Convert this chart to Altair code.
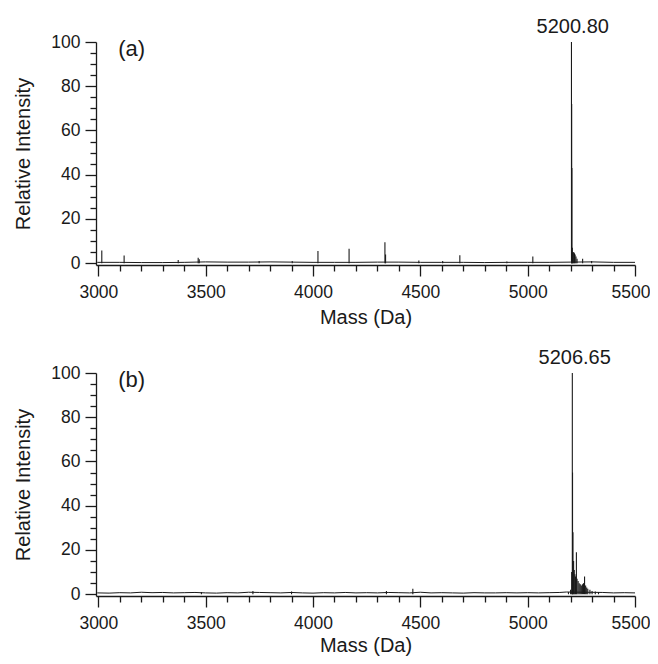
import altair as alt
import pandas as pd

# ---------------- data ----------------
# Panel (a): peak sticks (mass in Da, relative intensity)
peak_mass_a = [3016, 3120, 3372, 3465, 3470, 3749, 3903, 4023, 4168, 4335, 4338,
               4493, 4604, 4684, 4903, 5024, 5204, 5205, 5206, 5208, 5210, 5212,
               5215, 5218, 5221, 5225, 5230, 5256, 5298]
peak_int_a = [5.8, 3.5, 1.5, 2.5, 1.8, 1.0, 1.0, 5.5, 6.5, 9.5, 4.0,
              1.2, 1.0, 3.6, 0.8, 3.0, 100, 72, 43, 7, 5, 5,
              5, 4.5, 4, 3, 2, 2, 1]
# Panel (a): baseline trace
base_mass_a = [2995, 3100, 3200, 3300, 3400, 3500, 3600, 3700, 3800, 3900, 4000,
               4100, 4200, 4300, 4400, 4500, 4600, 4700, 4800, 4900, 5000,
               5100, 5200, 5300, 5400, 5500]
base_int_a = [0.4, 0.4, 0.3, 0.3, 0.4, 0.6, 0.5, 0.5, 0.6, 0.5, 0.4,
              0.4, 0.4, 0.5, 0.5, 0.4, 0.4, 0.4, 0.3, 0.4, 0.4,
              0.4, 0.5, 0.6, 0.4, 0.4]

# Panel (b): peak sticks
peak_mass_b = [3480, 3720, 3900, 4342, 4465, 5190, 5200, 5205, 5208, 5209, 5211,
               5214, 5217, 5220, 5223, 5227, 5230, 5235, 5240, 5245, 5250, 5255,
               5260, 5265, 5270, 5275, 5280, 5290, 5300, 5315, 5330]
peak_int_b = [1.0, 1.5, 1.2, 1.5, 2.5, 1.0, 2.0, 10, 100, 55, 28,
              15, 11, 9, 8, 19, 7, 6, 5, 4.5, 4, 4.5,
              5, 8, 4, 3, 2.5, 2, 1.5, 1.2, 1.0]
# Panel (b): baseline trace (noisier)
base_mass_b = [2995, 3050, 3100, 3150, 3200, 3250, 3300, 3350, 3400, 3450, 3500,
               3550, 3600, 3650, 3700, 3750, 3800, 3850, 3900, 3950, 4000,
               4050, 4100, 4150, 4200, 4250, 4300, 4350, 4400, 4450, 4500,
               4550, 4600, 4650, 4700, 4750, 4800, 4850, 4900, 4950, 5000,
               5050, 5100, 5150, 5180, 5350, 5400, 5450, 5500]
base_int_b = [0.6, 0.5, 0.7, 0.6, 0.9, 0.7, 0.8, 0.6, 0.7, 0.8, 0.6,
              0.5, 0.7, 0.6, 0.9, 0.8, 0.7, 0.6, 0.8, 0.6, 0.5,
              0.7, 0.6, 0.8, 0.6, 0.7, 0.6, 0.8, 0.7, 0.6, 0.9,
              0.6, 0.7, 0.6, 0.5, 0.7, 0.6, 0.6, 0.7, 0.6, 0.7,
              0.6, 0.7, 0.8, 1.0, 0.8, 0.6, 0.7, 0.6]

label_a = "5200.80"
label_b = "5206.65"
tag_a = "(a)"
tag_b = "(b)"

x_domain = [2989, 5500]
y_domain = [-0.8, 100]
major_x = [3000, 3500, 4000, 4500, 5000, 5500]
minor_x = [3100, 3200, 3300, 3400, 3600, 3700, 3800, 3900, 4100, 4200, 4300,
           4400, 4600, 4700, 4800, 4900, 5100, 5200, 5300, 5400]
major_y = [0, 20, 40, 60, 80, 100]
minor_y = [5, 10, 15, 25, 30, 35, 45, 50, 55, 65, 70, 75, 85, 90, 95]

FONT = "Liberation Sans"
INK = "#1a1a1a"
W, H = 539, 223


def panel(pm, pi, bm, bi, label, label_mass, tag, x_title_pad):
    xs = alt.Scale(domain=x_domain, nice=False, zero=False)
    ys = alt.Scale(domain=y_domain, nice=False, zero=False)
    common = dict(labelFont=FONT, titleFont=FONT, labelColor=INK, titleColor=INK,
                  tickColor=INK, domainColor=INK, grid=False,
                  titleFontWeight="normal", tickWidth=1.3, domainWidth=1.3)
    x_major = alt.Axis(values=major_x, format="d", title="Mass (Da)", tickSize=11,
                       labelPadding=7, labelFontSize=17.5, titleFontSize=20,
                       labelFlush=True, labelFlushOffset=15,
                       titlePadding=x_title_pad, orient="bottom", **common)
    y_major = alt.Axis(values=major_y, format="d", title="Relative Intensity",
                       tickSize=11, labelPadding=5, labelFontSize=17.5,
                       labelFlush=False,
                       titleFontSize=20, titlePadding=17, orient="left", **common)
    x_minor = alt.Axis(values=minor_x, labels=False, domain=False, title=None,
                       tickSize=6, tickColor=INK, tickWidth=1.3, grid=False,
                       orient="bottom")
    y_minor = alt.Axis(values=minor_y, labels=False, domain=False, title=None,
                       tickSize=6, tickColor=INK, tickWidth=1.3, grid=False,
                       orient="left")

    base_df = pd.DataFrame({"mass": bm, "inten": bi})
    peak_df = pd.DataFrame({"mass": pm, "inten": pi, "zero": [0] * len(pm)})
    lab_df = pd.DataFrame({"mass": [label_mass], "inten": [100], "text": [label]})
    tag_df = pd.DataFrame({"mass": [3155], "inten": [97], "text": [tag]})

    base = alt.Chart(base_df).mark_line(color=INK, strokeWidth=1).encode(
        x=alt.X("mass:Q", scale=xs, axis=x_major),
        y=alt.Y("inten:Q", scale=ys, axis=y_major),
    )
    sticks = alt.Chart(peak_df).mark_rule(color=INK, strokeWidth=1.1).encode(
        x=alt.X("mass:Q", scale=xs, axis=x_minor),
        y=alt.Y("inten:Q", scale=ys, axis=y_minor),
        y2="zero:Q",
    )
    lab = alt.Chart(lab_df).mark_text(font=FONT, fontSize=20, color=INK,
                                      baseline="bottom", dy=-5).encode(
        x=alt.X("mass:Q", scale=xs, axis=None),
        y=alt.Y("inten:Q", scale=ys, axis=None), text="text:N")
    tg = alt.Chart(tag_df).mark_text(font=FONT, fontSize=22, color=INK,
                                     baseline="middle").encode(
        x=alt.X("mass:Q", scale=xs, axis=None),
        y=alt.Y("inten:Q", scale=ys, axis=None), text="text:N")
    return alt.layer(base, sticks, lab, tg).resolve_axis(
        x="independent", y="independent"
    ).properties(width=W, height=H)


pa = panel(peak_mass_a, peak_int_a, base_mass_a, base_int_a, label_a, 5210, tag_a, 7)
pb = panel(peak_mass_b, peak_int_b, base_mass_b, base_int_b, label_b, 5219, tag_b, 4)

chart = alt.vconcat(pa, pb, spacing=20).properties(
    padding={"left": 5, "top": 9, "right": 0, "bottom": 0}
).configure_view(strokeWidth=0)

chart.save("out.html", embed_options={"renderer": "svg", "actions": False})
